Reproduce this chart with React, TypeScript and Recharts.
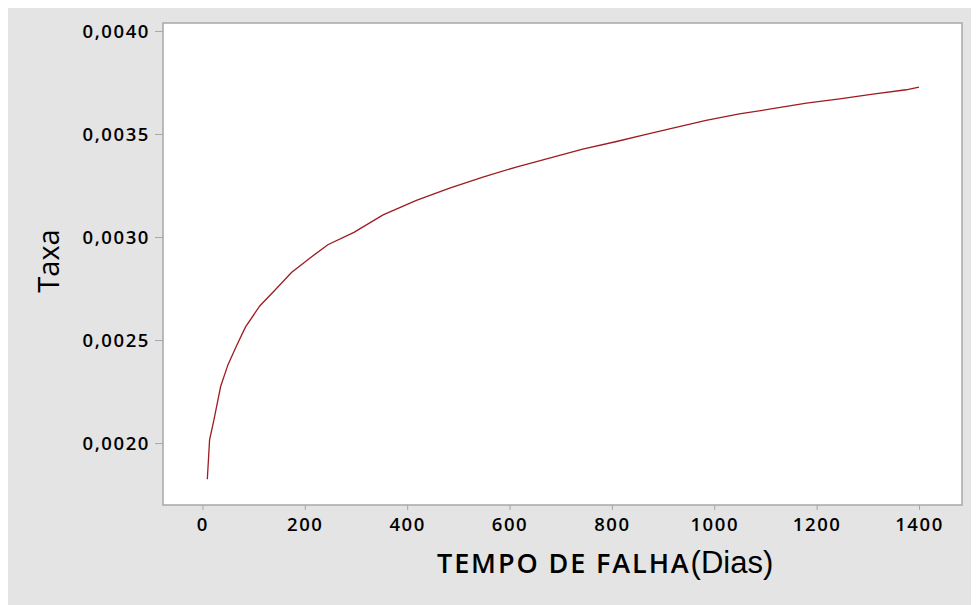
import { LineChart, Line, XAxis, YAxis, ReferenceArea, Label } from "recharts"

// Failure rate readings (Weibull hazard style curve)
const dias = [8.6, 13, 21.5, 34.6, 48.8, 65, 83, 111, 140, 173, 215, 244, 295, 352, 417, 482, 547, 612, 677, 742, 808, 866, 918, 983, 1048, 1113, 1179, 1244, 1309, 1374, 1399]
const taxa = [0.001827, 0.002018, 0.002115, 0.002277, 0.002382, 0.002471, 0.002565, 0.002668, 0.002743, 0.00283, 0.002911, 0.002965, 0.003025, 0.00311, 0.00318, 0.00324, 0.003293, 0.003342, 0.003385, 0.003429, 0.003466, 0.0035, 0.003531, 0.003568, 0.0036, 0.003625, 0.003652, 0.003673, 0.003696, 0.003717, 0.00373]

const xTicks = [0, 200, 400, 600, 800, 1000, 1200, 1400]
const yTicks = [0.002, 0.0025, 0.003, 0.0035, 0.004]
const xDomain = [-78, 1483]
const yDomain = [0.001702, 0.004041]

const data = dias.map((d, i) => ({ dias: d, taxa: taxa[i] }))

const tickStyle = { fill: "#000", fontSize: 18.5, fontWeight: 600, letterSpacing: 1.6, fontFamily: "Open Sans" }

const YTitle = (props: any) => {
  const vb = props.viewBox
  const cx = vb.x + 40
  const cy = vb.y + vb.height / 2 - 3
  return (
    <text x={cx} y={cy} transform={`rotate(-90 ${cx} ${cy})`} textAnchor="middle" dominantBaseline="central"
      fontFamily="Open Sans" fontSize={29} fill="#000">Taxa</text>
  )
}

const XTitle = (props: any) => {
  const vb = props.viewBox
  return (
    <text x={vb.x + 274} y={vb.y + 68} fill="#000">
      <tspan fontFamily="Open Sans" fontWeight={600} fontSize={27} letterSpacing={1.9}>TEMPO DE FALHA</tspan>
      <tspan fontFamily="Liberation Sans" fontSize={31}>(Dias)</tspan>
    </text>
  )
}

export default function App() {
  return (
    <div style={{ width: 972, height: 599, marginLeft: -1, marginTop: -2, background: "#e4e4e4" }}>
      <LineChart width={972} height={599} data={data} margin={{ top: 17, right: 17, left: 0, bottom: 0 }}>
        <XAxis
          dataKey="dias"
          type="number"
          domain={xDomain}
          ticks={xTicks}
          allowDataOverflow
          axisLine={false}
          tickLine={{ stroke: "#a6a6a6" }}
          tickSize={5}
          tickMargin={8}
          tick={tickStyle}
          height={100}
        >
          <Label content={<XTitle />} />
        </XAxis>
        <YAxis
          dataKey="taxa"
          type="number"
          domain={yDomain}
          ticks={yTicks}
          allowDataOverflow
          axisLine={false}
          tickLine={{ stroke: "#a6a6a6" }}
          tickSize={8}
          tickMargin={5}
          tick={tickStyle}
          tickFormatter={(v: number) => v.toFixed(4).replace(".", ",")}
          width={156}
        >
          <Label content={<YTitle />} />
        </YAxis>
        <ReferenceArea
          x1={xDomain[0]}
          x2={xDomain[1]}
          y1={yDomain[0]}
          y2={yDomain[1]}
          fill="#ffffff"
          fillOpacity={1}
          stroke="#a8a8a8"
          strokeWidth={1.5}
        />
        <Line
          type="linear"
          dataKey="taxa"
          stroke="#9e1b20"
          strokeWidth={1.3}
          dot={false}
          isAnimationActive={false}
        />
      </LineChart>
    </div>
  )
}
